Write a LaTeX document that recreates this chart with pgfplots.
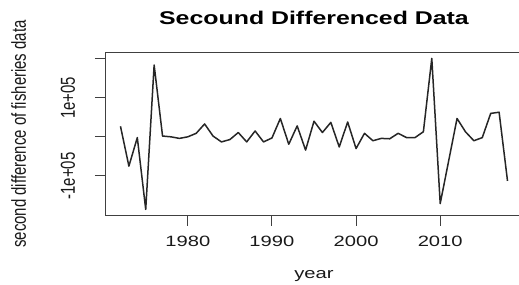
\documentclass[border=0pt]{standalone}
\usepackage{pgfplots}
\pgfplotsset{compat=1.18}
\usepackage{fontspec}
\setmainfont{Liberation Sans}
\pgfplotstableread{
year value
1972 27000
1973 -75000
1974 -2000
1975 -186000
1976 184000
1977 2000
1978 0
1979 -4000
1980 0
1981 9000
1982 33000
1983 2000
1984 -13000
1985 -7000
1986 11000
1987 -13000
1988 15000
1989 -13000
1990 -3000
1991 47000
1992 -19000
1993 28000
1994 -34000
1995 40000
1996 11000
1997 37000
1998 -26000
1999 38000
2000 -30000
2001 9000
2002 -10000
2003 -4000
2004 -5000
2005 9000
2006 -2000
2007 -2000
2008 13000
2009 201000
2010 -171000
2011 -62000
2012 47000
2013 13000
2014 -10000
2015 -2000
2016 60000
2017 63000
2018 -113000
}\datatable
\newcommand{\hs}[1]{\scalebox{1.35}[1]{#1}}
\newcommand{\vs}[1]{\scalebox{1}[1.35]{#1}}
\begin{document}
\begin{tikzpicture}
\begin{axis}[
  name=ax,
  at={(0,0)}, anchor=south west,
  scale only axis,
  width=418bp, height=163.4bp,
  xmin=1970.16, xmax=2019.84,
  ymin=-202000, ymax=216500,
  axis line style={black!75, line width=0.9bp},
  tick style={black!75, line width=0.9bp},
  tick align=outside,
  major tick length=10bp,
  xtick pos=left, ytick pos=left,
  xtick={1980,1990,2000,2010},
  xticklabels={\hs{1980},\hs{1990},\hs{2000},\hs{2010}},
  ytick={-100000,0,100000,200000},
  yticklabels={\vs{-1e+05},{},\vs{1e+05},{}},
  scaled y ticks=false,
  ticklabel style={font=\fontsize{15}{15}\selectfont, inner sep=0pt, text=black!90},
  xticklabel style={anchor=north},
  xticklabel shift=10bp,
  yticklabel style={rotate=90, anchor=base},
  yticklabel shift=20bp,
  clip=false,
]
\addplot[black!85, line width=1.5bp, line join=round] table[x=year, y=value] {\datatable};
\end{axis}
\node[anchor=base, inner sep=0pt, font=\bfseries\fontsize{18.5}{20}\selectfont] at ([yshift=27.3bp]ax.north) {\hs{Secound Differenced Data}};
\node[anchor=base, inner sep=0pt, text=black!90, font=\fontsize{15}{15}\selectfont] at ([yshift=-62.6bp]ax.south) {\hs{year}};
\node[anchor=base, rotate=90, inner sep=0pt, text=black!90, font=\fontsize{15}{15}\selectfont] at ([xshift=-79bp]ax.west) {\vs{second difference of fisheries data}};
\pgfresetboundingbox
\path[use as bounding box] (-105bp,-69.3bp) rectangle (414bp,215.7bp);
\end{tikzpicture}
\end{document}
